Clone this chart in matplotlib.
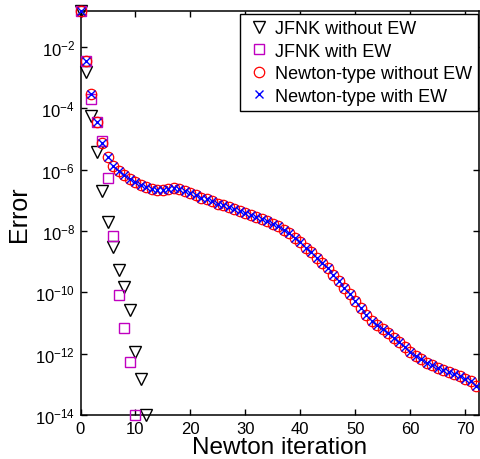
import numpy as np
import matplotlib.pyplot as plt

plt.rcParams['font.family'] = ['Liberation Sans', 'DejaVu Sans']
plt.rcParams['mathtext.fontset'] = 'custom'
plt.rcParams['mathtext.rm'] = 'Liberation Sans'
plt.rcParams['mathtext.it'] = 'Liberation Sans:italic'

# log10 of the error
jfnk_iter = [0, 1, 2, 3, 4, 5, 6, 7, 8, 9, 10, 11, 12]
jfnk_no_ew = [-0.83, -2.81, -4.24, -5.43, -6.69, -7.72, -8.51, -9.27, -9.84,
              -10.58, -11.96, -12.83, -14.0]

jfnk_ew_iter = [0, 1, 2, 3, 4, 5, 6, 7, 8, 9, 10]
jfnk_ew = [-0.83, -2.45, -3.70, -4.45, -5.06, -6.28, -8.17, -10.09, -11.17,
           -12.28, -14.0]

newton_iter = list(range(73))
newton_no_ew = [-0.83, -2.45, -3.53, -4.45, -5.14, -5.60, -5.87, -6.03, -6.17, -6.30,
                -6.41, -6.50, -6.57, -6.63, -6.68, -6.68, -6.63, -6.61, -6.64, -6.70,
                -6.77, -6.84, -6.91, -6.97, -7.04, -7.11, -7.17, -7.23, -7.28, -7.34,
                -7.41, -7.48, -7.55, -7.61, -7.68, -7.76, -7.85, -7.96, -8.08, -8.22,
                -8.37, -8.54, -8.70, -8.87, -9.04, -9.22, -9.42, -9.62, -9.85, -10.07,
                -10.29, -10.51, -10.74, -10.92, -11.06, -11.20, -11.34, -11.48, -11.63, -11.79,
                -11.95, -12.08, -12.19, -12.29, -12.38, -12.46, -12.53, -12.60, -12.67, -12.74,
                -12.82, -12.90, -13.05]
# the two Newton-type runs lie on top of each other
newton_ew = list(newton_no_ew)

fig = plt.figure(figsize=(4.8, 4.6), dpi=100)
ax = fig.add_axes([80.5 / 480, 44 / 460, 398.5 / 480, 404 / 460])

ax.semilogy(jfnk_iter, 10.0 ** np.array(jfnk_no_ew), 'v', ms=8.5, mfc='none',
            mec='black', mew=1.0, clip_on=False, label='JFNK without EW', zorder=3)
ax.semilogy(jfnk_ew_iter, 10.0 ** np.array(jfnk_ew), 's', ms=6.5, mfc='none',
            mec='#c000c0', mew=1.0, clip_on=False, label='JFNK with EW', zorder=3)
ax.semilogy(newton_iter, 10.0 ** np.array(newton_no_ew), 'o', ms=7.5, mfc='none',
            mec='red', mew=0.9, clip_on=False, label='Newton-type without EW', zorder=3)
ax.semilogy(newton_iter, 10.0 ** np.array(newton_ew), 'x', ms=6, mec='blue',
            mew=1.0, clip_on=False, label='Newton-type with EW', zorder=4)

ax.set_xlim(0, 72.5)
ax.set_ylim(1e-14, 10 ** -0.83)
ax.set_xticks(range(0, 71, 10))
ax.set_yticks([10.0 ** e for e in range(-14, -1, 2)])
ax.minorticks_off()
ax.tick_params(direction='in', top=True, right=True, length=4, width=1,
               labelsize=12, pad=4)
for s in ax.spines.values():
    s.set_linewidth(1.1)

ax.set_xlabel('Newton iteration', fontsize=17.5, labelpad=0)
ax.set_ylabel('Error', fontsize=18, labelpad=3)

leg = fig.legend(loc='upper right', bbox_to_anchor=(478 / 480, 1 - 15 / 460),
                 bbox_transform=fig.transFigure, fontsize=13, fancybox=False,
                 edgecolor='black', framealpha=1, borderaxespad=0,
                 handlelength=1.35, handletextpad=0.2, labelspacing=0.3,
                 borderpad=0.35)
leg.get_frame().set_linewidth(1.0)

fig.savefig('out.png', dpi=100)
